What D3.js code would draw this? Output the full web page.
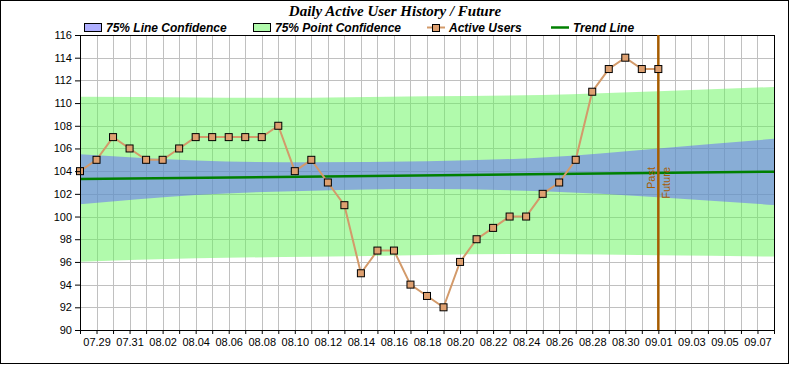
<!DOCTYPE html>
<html>
<head>
<meta charset="utf-8">
<script src="https://cdn.jsdelivr.net/npm/d3@7"></script>
<style>
  body { margin: 0; background: #fff; }
  svg { display: block; font-family: "Liberation Sans", Arial, sans-serif; }
</style>
</head>
<body>
<div id="chart"></div>
<script>
// Daily active users, one value per day starting 07.28
const firstDay = '2010-07-28';
const activeUsers = [
  104, 105, 107, 106, 105, 105, 106, 107, 107, 107, 107, 107, 108, 104, 105, 103,
  101, 95, 97, 97, 94, 93, 92, 96, 98, 99, 100, 100, 102, 103, 105, 111, 113, 114,
  113, 113,
];

// Trend line end points
const trendDates = ['2010-07-28', '2010-09-08'];
const trendValues = [103.3, 103.95];

// Confidence bands, read at weekly points
const bandDates = ['2010-07-28', '2010-08-04', '2010-08-11', '2010-08-18', '2010-08-25', '2010-09-01', '2010-09-08'];
const lineConfUpper = [105.5, 104.95, 104.78, 104.88, 105.2, 106.0, 106.85];
const lineConfLower = [101.08, 101.9, 102.28, 102.42, 102.22, 101.7, 101.02];
const pointConfUpper = [110.56, 110.5, 110.47, 110.6, 110.72, 111.05, 111.42];
const pointConfLower = [96.02, 96.32, 96.46, 96.62, 96.7, 96.58, 96.48];

const splitDate = '2010-09-01';
const xDomain = ['2010-07-28', '2010-09-08'];
const yDomain = [90, 116];

const legendItems = ['75% Line Confidence', '75% Point Confidence', 'Active Users', 'Trend Line'];

const W = 790, H = 365;
const margin = { top: 35, right: 16, bottom: 35, left: 80 };
const parse = d3.utcParse('%Y-%m-%d');

const svg = d3.select('#chart').append('svg').attr('width', W).attr('height', H);

const x = d3.scaleUtc().domain(xDomain.map(parse)).range([margin.left, W - margin.right]);
const y = d3.scaleLinear().domain(yDomain).range([H - margin.bottom, margin.top]);

const start = parse(firstDay);
const userData = activeUsers.map((v, i) => ({ date: d3.utcDay.offset(start, i), value: v }));
const bands = bandDates.map((d, i) => ({
  date: parse(d),
  lu: lineConfUpper[i], ll: lineConfLower[i],
  pu: pointConfUpper[i], pl: pointConfLower[i],
}));

// grid
const grid = svg.append('g').attr('stroke', '#c0c0c0').attr('stroke-width', 1);
grid.selectAll('line.v')
  .data(d3.utcDay.range(x.domain()[0], d3.utcDay.offset(x.domain()[1], 1)))
  .join('line')
  .attr('x1', (d) => Math.round(x(d)) + 0.5).attr('x2', (d) => Math.round(x(d)) + 0.5)
  .attr('y1', y.range()[1]).attr('y2', y.range()[0]);
grid.selectAll('line.h')
  .data(y.ticks(13))
  .join('line')
  .attr('x1', x.range()[0]).attr('x2', x.range()[1])
  .attr('y1', (d) => Math.round(y(d)) + 0.5).attr('y2', (d) => Math.round(y(d)) + 0.5);

// bands
const area = (hi, lo) => d3.area()
  .x((d) => x(d.date))
  .y0((d) => y(d[lo]))
  .y1((d) => y(d[hi]))
  .curve(d3.curveNatural);

svg.append('path').datum(bands)
  .attr('d', area('pu', 'pl'))
  .attr('fill', 'rgb(100,245,90)').attr('fill-opacity', 0.5);
svg.append('path').datum(bands)
  .attr('d', area('lu', 'll'))
  .attr('fill', 'rgb(95,95,255)').attr('fill-opacity', 0.5);

// trend line
svg.append('path')
  .datum(trendDates.map((d, i) => ({ date: parse(d), value: trendValues[i] })))
  .attr('d', d3.line().x((d) => x(d.date)).y((d) => y(d.value)))
  .attr('fill', 'none').attr('stroke', '#008000').attr('stroke-width', 2.5);

// plot frame
svg.append('rect')
  .attr('x', x.range()[0] + 0.5).attr('y', y.range()[1] + 0.5)
  .attr('width', x.range()[1] - x.range()[0]).attr('height', y.range()[0] - y.range()[1])
  .attr('fill', 'none').attr('stroke', '#000');

// past / future mark
const sx = x(parse(splitDate));
svg.append('line')
  .attr('x1', sx).attr('x2', sx).attr('y1', y.range()[1]).attr('y2', y.range()[0])
  .attr('stroke', '#a65c00').attr('stroke-width', 2.5);
svg.append('text')
  .attr('transform', `translate(${sx - 3},167) rotate(-90)`)
  .attr('text-anchor', 'end').attr('font-size', 11).attr('fill', '#a65c00')
  .text('Past');
svg.append('text')
  .attr('transform', `translate(${sx + 12},167) rotate(-90)`)
  .attr('text-anchor', 'end').attr('font-size', 11).attr('fill', '#a65c00')
  .text('Future');

// active users
svg.append('path').datum(userData)
  .attr('d', d3.line().x((d) => x(d.date)).y((d) => y(d.value)))
  .attr('fill', 'none').attr('stroke', '#d39a6a').attr('stroke-width', 2);
svg.append('g').selectAll('rect')
  .data(userData)
  .join('rect')
  .attr('x', (d) => x(d.date) - 3.5).attr('y', (d) => y(d.value) - 3.5)
  .attr('width', 7).attr('height', 7)
  .attr('fill', '#dea070').attr('stroke', '#000').attr('stroke-width', 1);

// axes
const yAxis = svg.append('g')
  .attr('transform', `translate(${x.range()[0]},0)`)
  .call(d3.axisLeft(y).ticks(13).tickSize(5).tickPadding(3));
const xAxis = svg.append('g')
  .attr('transform', `translate(0,${y.range()[0]})`)
  .call(d3.axisBottom(x).ticks(d3.utcDay.every(1)).tickSize(4).tickPadding(4)
    .tickFormat((d) => (d3.utcDay.count(start, d) % 2 === 1 ? d3.utcFormat('%m.%d')(d) : '')));
[yAxis, xAxis].forEach((g) => {
  g.select('.domain').attr('stroke', '#000');
  g.selectAll('.tick line').attr('stroke', '#000');
  g.selectAll('text').attr('font-size', 11).attr('fill', '#000')
    .style('font-family', '"Liberation Sans", Arial, sans-serif');
});

// title
svg.append('text')
  .attr('x', 395).attr('y', 16).attr('text-anchor', 'middle')
  .style('font-family', '"Liberation Serif", "Times New Roman", serif')
  .attr('font-weight', 'bold').attr('font-style', 'italic').attr('font-size', 15)
  .text('Daily Active User History / Future');

// legend
const legend = svg.append('g')
  .attr('font-weight', 'bold').attr('font-style', 'italic').attr('font-size', 12);
const lx = [84, 253, 427, 551];
legend.append('rect').attr('x', lx[0] + 0.5).attr('y', 23.5).attr('width', 17).attr('height', 8)
  .attr('fill', '#afafff').attr('stroke', '#000');
legend.append('rect').attr('x', lx[1] + 0.5).attr('y', 23.5).attr('width', 17).attr('height', 8)
  .attr('fill', '#b1faac').attr('stroke', '#000');
legend.append('line').attr('x1', lx[2]).attr('x2', lx[2] + 18).attr('y1', 27.5).attr('y2', 27.5)
  .attr('stroke', '#d39a6a').attr('stroke-width', 2);
legend.append('rect').attr('x', lx[2] + 5.5).attr('y', 24.5).attr('width', 7).attr('height', 7)
  .attr('fill', '#dea070').attr('stroke', '#000');
legend.append('line').attr('x1', lx[3]).attr('x2', lx[3] + 18).attr('y1', 27.5).attr('y2', 27.5)
  .attr('stroke', '#008000').attr('stroke-width', 2.5);
legend.selectAll('text')
  .data(legendItems)
  .join('text')
  .attr('x', (d, i) => lx[i] + 22).attr('y', 32)
  .text((d) => d);

// outer border
svg.append('rect').attr('x', 0.5).attr('y', 0.5).attr('width', W - 2).attr('height', H - 2)
  .attr('fill', 'none').attr('stroke', '#000');
</script>
</body>
</html>
